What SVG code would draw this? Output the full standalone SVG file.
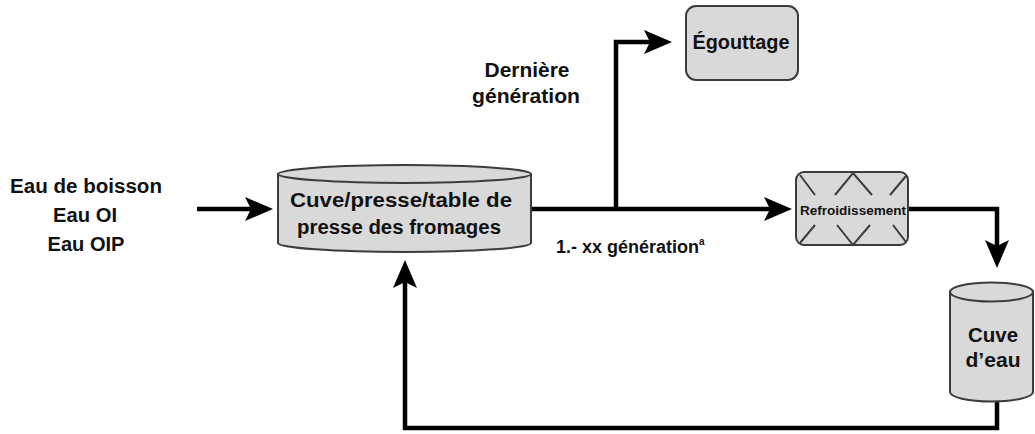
<svg xmlns="http://www.w3.org/2000/svg" width="1035" height="434" viewBox="0 0 1035 434">
<style>
.shape{fill:#d9d9d9;stroke:#3c3c3c;stroke-width:2}
.deco{fill:none;stroke:#3c3c3c;stroke-width:2}
.conn{fill:none;stroke:#000;stroke-width:4.5;stroke-linejoin:miter}
.lbl{font-family:"Liberation Sans",Arial,sans-serif;font-weight:bold;fill:#111;text-anchor:middle}
</style>
<defs>
<marker id="arr" viewBox="0 0 28 24" refX="18" refY="12" markerWidth="28" markerHeight="24" markerUnits="userSpaceOnUse" orient="auto">
<path d="M0,0 L28,12 L0,24 L6,12 Z" fill="#000"/>
</marker>
</defs>
<rect width="1035" height="434" fill="#fff"/>

<g id="connectors">
<path class="conn" d="M197,209 H263" marker-end="url(#arr)"/>
<path class="conn" d="M531,209 H782" marker-end="url(#arr)"/>
<path class="conn" d="M616,209 V42 H662" marker-end="url(#arr)"/>
<path class="conn" d="M908,209 H997 V258" marker-end="url(#arr)"/>
<path class="conn" d="M997,402 V428 H405 V270" marker-end="url(#arr)"/>
</g>

<g id="label-sources">
<text class="lbl" x="86" y="193" font-size="20" textLength="152" lengthAdjust="spacingAndGlyphs">Eau de boisson</text>
<text class="lbl" x="85" y="222" font-size="20" textLength="64" lengthAdjust="spacingAndGlyphs">Eau OI</text>
<text class="lbl" x="86" y="251" font-size="20" textLength="77" lengthAdjust="spacingAndGlyphs">Eau OIP</text>
</g>

<g id="cuve-presse">
<path class="shape" d="M278,174 V243 A126.5,9 0 0 0 531,243 V174 Z"/>
<ellipse class="shape" cx="404.5" cy="174" rx="126.5" ry="9"/>
<text class="lbl" x="401" y="207" font-size="20" textLength="222" lengthAdjust="spacingAndGlyphs">Cuve/presse/table de</text>
<text class="lbl" x="399" y="234" font-size="20" textLength="204" lengthAdjust="spacingAndGlyphs">presse des fromages</text>
</g>

<g id="label-derniere">
<text class="lbl" x="527" y="77" font-size="20" textLength="85" lengthAdjust="spacingAndGlyphs">Dernière</text>
<text class="lbl" x="526" y="103" font-size="20" textLength="108" lengthAdjust="spacingAndGlyphs">génération</text>
</g>

<g id="egouttage">
<rect class="shape" x="686" y="6" width="112" height="74" rx="10"/>
<text class="lbl" x="741" y="49" font-size="20" textLength="97" lengthAdjust="spacingAndGlyphs">Égouttage</text>
</g>

<g id="label-generation">
<text class="lbl" x="556" y="253" font-size="17.5" style="text-anchor:start"><tspan textLength="143" lengthAdjust="spacingAndGlyphs">1.- xx génération</tspan><tspan font-size="10" dy="-8">a</tspan></text>
</g>

<g id="refroidissement">
<rect class="shape" x="796" y="172" width="112" height="73" rx="8"/>
<path class="deco" d="M800,175 L815,195 M835,195 L853,173 L872,195 M890,195 L906,176 M800,243 L815,225 M837,225 L853,245 L870,225 M893,225 L906,242"/>
<text class="lbl" x="853" y="215" font-size="12.5" textLength="106" lengthAdjust="spacingAndGlyphs">Refroidissement</text>
</g>

<g id="cuve-eau">
<path class="shape" d="M950,292 V392 A41.5,9.5 0 0 0 1033,392 V292 Z"/>
<ellipse class="shape" cx="991.5" cy="292" rx="41.5" ry="9.5"/>
<text class="lbl" x="993" y="342" font-size="20" textLength="50" lengthAdjust="spacingAndGlyphs">Cuve</text>
<text class="lbl" x="993" y="367" font-size="20" textLength="55" lengthAdjust="spacingAndGlyphs">d’eau</text>
</g>
</svg>
